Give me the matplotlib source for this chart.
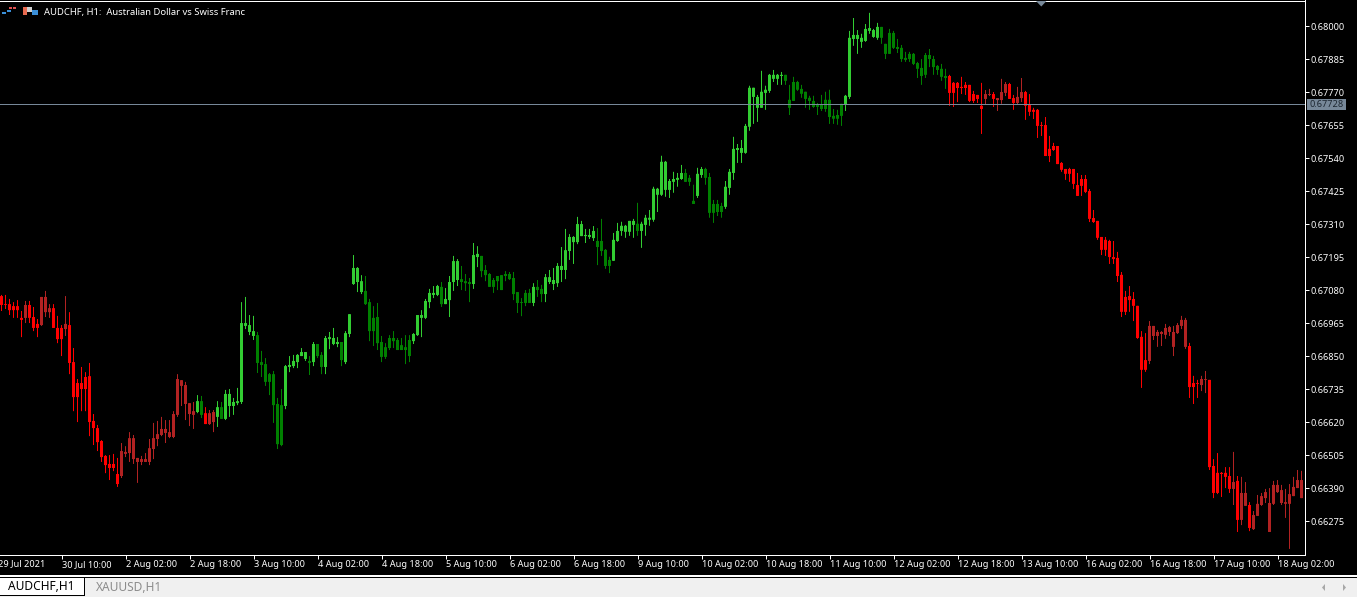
import numpy as np
import matplotlib
matplotlib.use("Agg")
import matplotlib.pyplot as plt
from matplotlib.patches import Rectangle, Polygon

# AUDCHF H1 candles, in points (1e-5)
opens = [67060,67032,67032,67025,67025,66984,66984,67029,66987,66963,
66959,67004,67004,67018,66949,66949,66945,66959,66830,66757,
66757,66778,66781,66625,66600,66555,66503,66475,66475,66440,
66433,66510,66513,66492,66482,66482,66482,66482,66527,66562,
66576,66583,66569,66569,66646,66747,66684,66649,66646,66656,
66694,66652,66614,66621,66639,66673,66632,66677,66677,66687,
66691,66956,66935,66921,66924,66830,66823,66788,66788,66684,
66680,66677,66813,66816,66830,
66851,66841,66834,66830,66893,66855,66813,66910,66893,66893,
66900,66830,66928,67102,67109,67074,67078,67039,66984,66987,
66900,66882,66914,66914,66907,66889,66882,66907,66903,66924,
66984,66984,67039,67064,67064,67092,67032,67046,67109,67116,
67119,67112,67109,67102,67196,67200,67151,67137,67116,67130,
67133,67137,67137,67123,67074,67039,67071,67071,67036,67092,
67085,67067,67109,67102,67105,67151,67151,67217,67248,67248,
67269,67269,67266,67262,67252,
67252,67221,67186,67183,67252,67287,67284,67284,67308,67312,
67287,67308,67326,67326,67413,67413,67430,67430,67458,67465,
67468,67489,67472,67392,67409,67482,67503,67475,67381,67381,
67374,67371,67437,67489,67569,67559,67559,67650,67754,67716,
67716,67768,67775,67817,67817,67827,67831,67744,67806,67806,
67782,67772,67751,67740,67726,67726,67744,67744,67688,67691,
67730,67726,
67754,67956,67956,67946,67949,67984,67963,67960,67998,67939,
67977,67977,67928,67925,67890,67904,67904,67872,67855,67900,
67900,67886,67862,67852,67827,67827,67803,67803,67789,67796,
67796,67764,67761,67723,67747,67761,67764,67743,67743,67768,
67799,67750,67733,67750,67771,67726,67709,67709,67656,67656,
67573,67583,67583,67524,67503,67503,67503,67447,67468,67468,
67426,
67332,67322,67266,67256,67252,67196,67193,67134,67057,67060,
67050,67026,66918,66837,66834,66921,66921,66928,66925,66935,
66883,66931,66956,66883,66886,66757,66757,66750,66768,66768,
66468,66444,66444,66444,66433,66388,66416,66280,66329,66332,
66248,66294,66332,66356,66238,66336,66377,66339,66336,66336,
66363,66391,66356]

highs = [67064,67064,67050,67039,67046,67008,67043,67043,67022,66980,
67057,67078,67032,67032,66991,66959,67060,67004,66879,66771,
66813,66795,66827,66649,66611,66558,66506,66506,66510,66496,
66548,66537,66586,66576,66496,66503,66513,66562,66618,66625,
66639,66628,66628,66659,66788,66767,66761,66687,66691,66715,
66712,66673,66663,66663,66694,66691,66733,66736,66705,66740,
67039,67057,66994,66991,66935,66869,66844,66792,66799,66705,
66736,66820,66851,66855,66858,
66879,66865,66851,66900,66893,66865,66921,66935,66949,66917,
66900,66938,66997,67203,67161,67133,67130,67050,67025,67036,
66921,66896,66924,66938,66914,66914,66924,66924,66931,66994,
67011,67050,67085,67095,67099,67109,67088,67130,67200,67189,
67165,67137,67123,67245,67234,67200,67168,67140,67123,67130,
67133,67147,67144,67144,67074,67053,67081,67085,67105,67116,
67099,67137,67151,67158,67175,67231,67294,67276,67269,67336,
67322,67294,67294,67304,67297,
67329,67224,67197,67280,67315,67319,67308,67322,67329,67385,
67319,67343,67360,67441,67437,67549,67531,67468,67493,67489,
67517,67503,67482,67448,67507,67510,67507,67489,67395,67395,
67385,67461,67503,67615,67590,67604,67660,67793,67786,67761,
67845,67793,67834,67848,67834,67841,67831,67796,67824,67810,
67796,67772,67758,67758,67733,67761,67772,67779,67712,67709,
67730,67761,
67984,68029,67987,67974,68008,68047,67991,68012,67998,67939,
67991,67984,67956,67935,67911,67911,67907,67876,67886,67907,
67921,67897,67865,67869,67852,67831,67806,67806,67824,67806,
67796,67775,67761,67803,67778,67782,67771,67750,67817,67806,
67803,67761,67789,67820,67775,67764,67716,67712,67667,67684,
67618,67594,67583,67527,67503,67507,67503,67489,67482,67482,
67433,
67360,67322,67266,67266,67256,67252,67214,67144,67078,67095,
67074,67026,66938,66931,66973,66956,66942,66938,66963,66956,
66956,66966,66991,66984,66897,66782,66768,66782,66799,66768,
66492,66513,66447,66464,66464,66517,66433,66430,66412,66342,
66311,66367,66374,66388,66391,66416,66419,66402,66388,66405,
66430,66454,66451]

lows = [67008,67015,66994,66984,66984,66917,66966,66966,66938,66917,
66956,66987,66984,66949,66896,66851,66921,66788,66659,66621,
66659,66659,66572,66541,66520,66482,66443,66419,66450,66395,
66426,66499,66482,66475,66409,66471,66482,66471,66492,66537,
66572,66548,66565,66565,66639,66677,66628,66607,66597,66652,
66635,66614,66611,66586,66604,66632,66628,66639,66646,66680,
66684,66945,66924,66907,66792,66778,66747,66715,66618,66527,
66537,66666,66795,66809,66809,
66851,66834,66785,66816,66844,66788,66788,66875,66889,66882,
66816,66823,66917,67099,67074,67067,67029,66903,66886,66872,
66830,66841,66872,66879,66872,66872,66823,66830,66893,66921,
66917,66980,67018,67053,67060,67022,67032,66987,67078,67095,
67081,67078,67039,67085,67161,67126,67112,67092,67071,67081,
67081,67112,67116,67046,67001,66990,67025,67036,67025,67057,
67039,67039,67102,67081,67092,67109,67119,67186,67172,67241,
67269,67245,67259,67252,67168,
67200,67155,67140,67183,67249,67270,67263,67270,67263,67270,
67228,67270,67305,67319,67353,67409,67406,67402,67420,67441,
67465,67458,67444,67381,67402,67472,67448,67333,67315,67339,
67333,67364,67413,67465,67524,67524,67556,67636,67660,67667,
67716,67709,67768,67806,67796,67796,67796,67691,67740,67775,
67751,67716,67709,67716,67691,67705,67702,67660,67660,67657,
67653,67705,
67747,67932,67904,67925,67946,67974,67960,67953,67939,67886,
67904,67921,67907,67876,67876,67876,67865,67820,67796,67820,
67858,67831,67831,67810,67782,67723,67719,67736,67764,67761,
67736,67733,67733,67625,67726,67757,67719,67705,67730,67757,
67747,67709,67726,67736,67674,67688,67677,67611,67618,67548,
67527,67566,67520,67493,67465,67458,67433,67409,67409,67419,
67318,
67315,67256,67203,67200,67172,67172,67109,66987,66994,67005,
66973,66911,66740,66796,66823,66907,66883,66886,66911,66921,
66851,66928,66945,66876,66705,66684,66705,66729,66722,66454,
66356,66370,66360,66391,66374,66332,66238,66262,66329,66241,
66245,66294,66329,66339,66238,66332,66374,66332,66287,66179,
66363,66391,66356]

closes = [67029,67029,67011,67011,67011,66977,67029,66984,66949,66949,
67057,67057,67018,66949,66910,66910,66963,66827,66708,66708,
66736,66736,66621,66600,66551,66499,66471,66461,66461,66405,
66520,66517,66565,66565,66496,66492,66492,66530,66565,66579,
66597,66597,66586,66649,66771,66767,66750,66687,66659,66694,
66646,66614,66652,66656,66673,66632,66719,66719,66691,66694,
66966,66966,66959,66938,66827,66820,66761,66761,66680,66544,
66541,66816,66820,66834,66855,
66865,66865,66827,66893,66851,66813,66914,66917,66914,66900,
66837,66931,66997,67158,67158,67112,67032,66938,66938,66896,
66848,66848,66879,66903,66872,66872,66872,66851,66928,66994,
66994,67043,67071,67071,67095,67032,67050,67109,67182,67182,
67109,67105,67102,67203,67207,67147,67133,67092,67092,67112,
67081,67130,67119,67067,67036,67036,67036,67036,67092,67081,
67067,67126,67126,67116,67165,67165,67220,67266,67266,67311,
67311,67273,67273,67287,67231,
67217,67165,67165,67256,67287,67305,67305,67322,67322,67287,
67312,67333,67333,67434,67434,67528,67528,67461,67468,67472,
67489,67458,67458,67381,67486,67503,67472,67350,67350,67353,
67353,67441,67493,67573,67576,67576,67653,67786,67786,67754,
67772,67779,67831,67831,67831,67831,67810,67716,67740,67779,
67765,67747,67740,67719,67719,67712,67712,67684,67678,67678,
67688,67758,
67960,67970,67970,67960,67991,67994,67987,67998,67960,67904,
67904,67925,67921,67886,67883,67886,67869,67852,67827,67831,
67886,67858,67848,67824,67820,67768,67768,67785,67785,67785,
67740,67740,67747,67712,67764,67764,67747,67750,67771,67799,
67747,67733,67754,67771,67723,67702,67702,67653,67653,67548,
67548,67569,67520,67500,67486,67486,67451,67409,67444,67423,
67329,
67318,67263,67221,67221,67196,67189,67130,67005,67005,67046,
67026,66914,66803,66803,66956,66956,66935,66935,66949,66952,
66935,66959,66977,66977,66743,66743,66754,66771,66771,66464,
66374,66374,66440,66430,66388,66412,66280,66374,66374,66252,
66297,66336,66363,66377,66339,66402,66402,66384,66342,66370,
66395,66419,66419]

# colour scheme of the bars changes in stretches (first bar, last bar)
red_spans = [(0, 48), (51, 53), (237, 325)]

y_ticks = [0.68000, 0.67885, 0.67770, 0.67655, 0.67540, 0.67425, 0.67310, 0.67195,
           0.67080, 0.66965, 0.66850, 0.66735, 0.66620, 0.66505, 0.66390, 0.66275]
x_tick_bars = list(range(-1, 320, 16))
x_tick_labels = ["29 Jul 2021", "30 Jul 10:00", "2 Aug 02:00", "2 Aug 18:00", "3 Aug 10:00",
                 "4 Aug 02:00", "4 Aug 18:00", "5 Aug 10:00", "6 Aug 02:00", "6 Aug 18:00",
                 "9 Aug 10:00", "10 Aug 02:00", "10 Aug 18:00", "11 Aug 10:00", "12 Aug 02:00",
                 "12 Aug 18:00", "13 Aug 10:00", "16 Aug 02:00", "16 Aug 18:00", "17 Aug 10:00",
                 "18 Aug 02:00"]
last_price = 0.67728
title = "AUDCHF, H1:  Australian Dollar vs Swiss Franc"
tabs = ["AUDCHF,H1", "XAUUSD,H1"]

W, H = 1357, 597
plt.rcParams["font.family"] = ["Noto Sans", "DejaVu Sans"]
fig = plt.figure(figsize=(W / 100, H / 100), dpi=100, facecolor="black")

# axes placed in pixels: x 0..1304.5, y 0.5..554.5
ax = fig.add_axes([0, 1 - 554.5 / H, 1304.5 / W, 554 / H], facecolor="black")
o, h, l, c = [np.array(a) / 1e5 for a in (opens, highs, lows, closes)]
x = np.arange(len(o))
red = np.zeros(len(o), dtype=bool)
for a, b in red_spans:
    red[a:b + 1] = True
up = c >= o
colors = np.where(red, np.where(up, "#b22222", "#ff0000"), np.where(up, "#32cd32", "#008000"))

# snap off: one bar is 4 px wide so bodies land on exact 3 px, wicks on 1 px
ax.vlines(x, l, h, colors=colors, lw=0.72, snap=False, zorder=2)
ax.bar(x, np.abs(c - o), bottom=np.minimum(o, c), width=0.75, color=colors, lw=0,
       snap=False, zorder=3)
# the price line sits over the candles
ax.axhline(last_price, color="#778899", lw=0.72, zorder=4)

ax.set_xlim(-0.375, 325.75)
ax.set_ylim(0.661595, 0.68090)
ax.spines["left"].set_visible(False)
for s in ("right", "bottom", "top"):
    ax.spines[s].set_color("white")
    ax.spines[s].set_linewidth(0.72)

ax.yaxis.tick_right()
ax.set_yticks(y_ticks, [f"{v:.5f}" for v in y_ticks])
ax.tick_params(axis="y", colors="white", length=3, width=0.72, pad=1, labelsize=6.6)
ax.set_xticks(x_tick_bars[1:], x_tick_labels[1:], ha="left")
ax.tick_params(axis="x", colors="white", length=3, width=0.72, pad=1.3, labelsize=6.6)
ax.text(x_tick_bars[0], -0.0165, x_tick_labels[0], color="white", fontsize=6.6, ha="left", va="center",
        transform=ax.get_xaxis_transform(), clip_on=False)


def px_rect(x0, y0, x1, y1, color, z=5):
    fig.add_artist(Rectangle((x0 / W, 1 - y1 / H), (x1 - x0) / W, (y1 - y0) / H,
                             transform=fig.transFigure, facecolor=color, edgecolor="none",
                             antialiased=False, zorder=z))


def px_poly(pts, color):
    fig.add_artist(Polygon([(a / W, 1 - b / H) for a, b in pts], transform=fig.transFigure,
                           facecolor=color, edgecolor="none", zorder=6))


# last price tag
px_rect(1307, 99, 1346, 110, "#778899")
fig.text(1326.5 / W, 1 - 104.6 / H, f"{last_price:.5f}", color="#1c2630", fontsize=6.6,
         ha="center", va="center", zorder=7)

# little triangle on top edge
px_poly([(1036, 1), (1046.5, 1), (1041.3, 6.5)], "#778899")

# symbol line and its small icons
fig.text(44 / W, 1 - 12 / H, title, color="white", fontsize=6.8, ha="left", va="center", zorder=7)
px_rect(2, 12, 6, 14, "#3a8fd8")
px_rect(7, 10, 11, 12, "#3a8fd8")
px_rect(9, 7, 12, 9, "#e05050")
px_rect(13, 7, 16, 9, "#e05050")
px_rect(23, 7, 27, 15, "#e86a50")
px_rect(27, 7, 32, 12, "#d0d0d0")
px_rect(32, 10, 38, 15, "#3a8fd8")

# tab bar at the bottom
px_rect(0, 575, W, 577, "#ffffff")
px_rect(0, 577, W, 578, "#000000")
px_rect(0, 578, W, H, "#f0f0f0")
px_rect(0, 578, 84, 595, "#ffffff", z=6)
px_rect(0, 595, 85, 596, "#000000", z=6)
px_rect(84, 578, 85, 596, "#000000", z=6)
fig.text(8 / W, 1 - 587 / H, tabs[0], color="black", fontsize=8.6, ha="left", va="center", zorder=7)
fig.text(96 / W, 1 - 587.5 / H, tabs[1], color="#8c8c8c", fontsize=8.6, ha="left", va="center", zorder=7)
px_poly([(1325, 584), (1325, 591), (1322, 587.5)], "#a8a8a8")
px_poly([(1343, 584), (1343, 591), (1346, 587.5)], "#a8a8a8")

fig.savefig("out.png", dpi=100, facecolor="black")
